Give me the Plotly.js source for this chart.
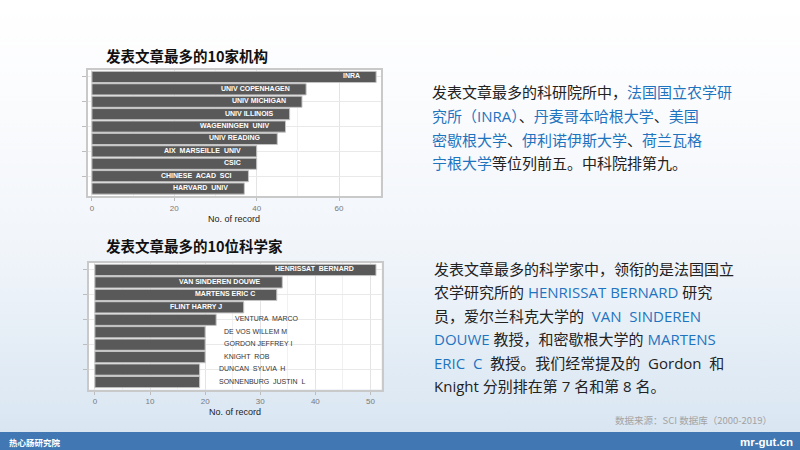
<!DOCTYPE html>
<html>
<head>
<meta charset="utf-8">
<script src="https://cdn.plot.ly/plotly-3.0.1.min.js"></script>
<style>
html,body{margin:0;padding:0;}
body{width:800px;height:450px;overflow:hidden;
background:linear-gradient(to bottom,#ffffff 0%,#fafbfd 25%,#f1f5fa 55%,#d9e6f2 96%,#d9e6f2 100%);}
#chart{width:800px;height:450px;}
</style>
</head>
<body>
<div id="chart"></div>
<script>
// ---- data ----
const instCategories = ['INRA','UNIV COPENHAGEN','UNIV MICHIGAN','UNIV ILLINOIS','WAGENINGEN  UNIV','UNIV READING','AIX  MARSEILLE  UNIV','CSIC','CHINESE  ACAD  SCI','HARVARD  UNIV'];
const instRecords = [69,52,51,48,47,45,40,40,38,37];
const instTicks = [0,20,40,60];

const sciCategories = ['HENRISSAT  BERNARD','VAN SINDEREN DOUWE','MARTENS ERIC C','FLINT HARRY J','VENTURA  MARCO','DE VOS WILLEM M','GORDON JEFFREY I','KNIGHT  ROB','DUNCAN  SYLVIA  H','SONNENBURG  JUSTIN  L'];
const sciRecords = [51,34,33,27,22,20,20,20,19,19];
const sciTicks = [0,10,20,30,40,50];
const sciInsideCount = 4;

const xTitle = 'No. of record';
const title1 = '发表文章最多的10家机构';
const title2 = '发表文章最多的10位科学家';

const DARK = '#222222';
const BLUE = '#1f74bf';
const b = s => '<span style="color:' + BLUE + '">' + s + '</span>';

const para1 = [
  '发表文章最多的科研院所中，' + b('法国国立农学研'),
  b('究所（INRA）') + '、' + b('丹麦哥本哈根大学') + '、' + b('美国'),
  b('密歇根大学') + '、' + b('伊利诺伊斯大学') + '、' + b('荷兰瓦格'),
  b('宁根大学') + '等位列前五。中科院排第九。'
];
const para2 = [
  '发表文章最多的科学家中，领衔的是法国国立',
  '农学研究所的 ' + b('HENRISSAT BERNARD') + ' 研究',
  '员，爱尔兰科克大学的  ' + b('VAN  SINDEREN'),
  b('DOUWE') + ' 教授，和密歇根大学的 ' + b('MARTENS'),
  b('ERIC  C') + '  教授。我们经常提及的  Gordon  和',
  'Knight 分别排在第 7 名和第 8 名。'
];
const sourceText = '数据来源：SCI 数据库（2000-2019）';
const footerLeft = '热心肠研究院';
const footerRight = 'mr-gut.cn';

// ---- helpers ----
const W = 800, H = 450;
const py = p => 1 - p / H;
const px = p => p / W;
const CJK = '"Noto Sans CJK SC", "Noto Sans", sans-serif';
const TXT = '"Open Sans", "Noto Sans CJK SC", sans-serif';
const LAT = '"Liberation Sans", Arial, sans-serif';

const barStyle = {color:'#595959', line:{color:'#c4c4c4', width:1}};

const traces = [
  {type:'bar', orientation:'h', x:instRecords, y:instCategories, xaxis:'x', yaxis:'y',
   marker:barStyle, hoverinfo:'none', showlegend:false},
  {type:'bar', orientation:'h', x:sciRecords, y:sciCategories, xaxis:'x2', yaxis:'y2',
   marker:barStyle, hoverinfo:'none', showlegend:false}
];

function xAxis(domain, range, ticks, minorStep, anchor){
  return {
    domain:domain, range:range, anchor:anchor, tickvals:ticks,
    showgrid:true, gridcolor:'#e4e4e4', gridwidth:1,
    minor:{showgrid:true, gridcolor:'#f1f1f1', dtick:minorStep, tick0:0},
    zeroline:false, showline:true, mirror:true, linecolor:'#c9c9c9', linewidth:2,
    ticks:'outside', ticklen:3, tickcolor:'#bdbdbd', tickwidth:1,
    tickfont:{family:LAT, size:8, color:'#7a7a7a'},
    title:{text:xTitle, font:{family:LAT, size:9, color:DARK}, standoff:4},
    fixedrange:true
  };
}
function yAxis(domain, cats, anchor){
  return {
    domain:domain, type:'category', categoryorder:'array', categoryarray:cats,
    range:[cats.length - 0.4, -0.6], anchor:anchor,
    showticklabels:false, showgrid:true, gridcolor:'#e9e9e9',
    zeroline:false, showline:true, mirror:true, linecolor:'#c9c9c9', linewidth:2,
    ticks:'outside', ticklen:4, tickcolor:'#bdbdbd', tickwidth:1, fixedrange:true
  };
}

const annotations = [];
// bar labels, chart 1
instCategories.forEach((c,i)=>{
  annotations.push({xref:'x', yref:'y', x:instRecords[i], y:c, text:'<b>'+c+'</b>',
    showarrow:false, xanchor:'right', yanchor:'middle', xshift:-14, yshift:1,
    font:{family:LAT, size:7, color:'#ffffff'}});
});
// bar labels, chart 2
sciCategories.forEach((c,i)=>{
  const inside = i < sciInsideCount;
  annotations.push({xref:'x2', yref:'y2', x:sciRecords[i], y:c,
    text: inside ? '<b>'+c+'</b>' : c,
    showarrow:false, xanchor: inside ? 'right' : 'left', yanchor:'middle',
    xshift: inside ? -20 : 17, yshift:1,
    font:{family:LAT, size:7, color: inside ? '#ffffff' : '#333333'}});
});
// chart titles
annotations.push({xref:'paper', yref:'paper', x:px(104), y:py(55), xanchor:'left', yanchor:'middle',
  text:'<b>'+title1+'</b>', showarrow:false, font:{family:CJK, size:14.5, color:'#111111'}});
annotations.push({xref:'paper', yref:'paper', x:px(104), y:py(246), xanchor:'left', yanchor:'middle',
  text:'<b>'+title2+'</b>', showarrow:false, font:{family:CJK, size:14.5, color:'#111111'}});
// paragraphs
para1.forEach((t,i)=>{
  annotations.push({xref:'paper', yref:'paper', x:px(430), y:py(92.5 + i*23.6), xanchor:'left', yanchor:'middle',
    text:t, showarrow:false, font:{family:TXT, size:15, color:DARK}});
});
para2.forEach((t,i)=>{
  annotations.push({xref:'paper', yref:'paper', x:px(432), y:py(268.5 + i*23.5), xanchor:'left', yanchor:'middle',
    text:t, showarrow:false, font:{family:TXT, size:15, color:DARK}});
});
// source
annotations.push({xref:'paper', yref:'paper', x:px(774), y:py(420), xanchor:'right', yanchor:'middle',
  text:sourceText, showarrow:false, font:{family:CJK, size:9.5, color:'#a3a3a3'}});
// footer texts
annotations.push({xref:'paper', yref:'paper', x:px(7), y:py(441.5), xanchor:'left', yanchor:'middle',
  text:'<b>'+footerLeft+'</b>', showarrow:false, font:{family:CJK, size:8.5, color:'#ffffff'}});
annotations.push({xref:'paper', yref:'paper', x:px(795), y:py(441.5), xanchor:'right', yanchor:'middle',
  text:'<b>'+footerRight+'</b>', showarrow:false, font:{family:LAT, size:11.5, color:'#ffffff'}});

const layout = {
  width:W, height:H, margin:{l:0,r:0,t:0,b:0},
  paper_bgcolor:'rgba(0,0,0,0)', plot_bgcolor:'#ffffff',
  bargap:0.1,
  xaxis: xAxis([px(87.5), px(380.5)], [-1.07, 70.06], instTicks, 10, 'y'),
  yaxis: yAxis([py(196), py(69.5)], instCategories, 'x'),
  xaxis2: xAxis([px(88.5), px(381.5)], [-1.16, 52.0], sciTicks, 5, 'y2'),
  yaxis2: yAxis([py(389.5), py(262.5)], sciCategories, 'x2'),
  shapes:[
    {type:'rect', xref:'paper', yref:'paper', x0:0, x1:1, y0:0, y1:py(432),
     fillcolor:'#4178b3', line:{width:0}, layer:'below'}
  ],
  annotations:annotations,
  font:{family:LAT}
};

Plotly.newPlot('chart', traces, layout, {displayModeBar:false, staticPlot:true});
</script>
</body>
</html>
